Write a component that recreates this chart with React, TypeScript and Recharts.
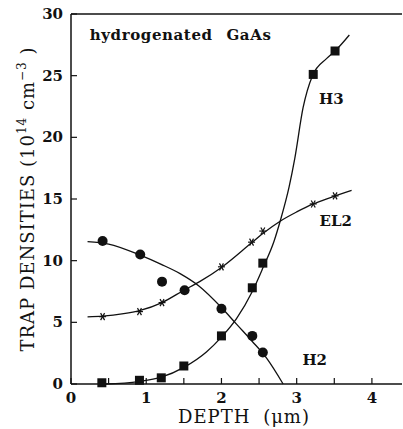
import {
  ComposedChart,
  Line,
  ReferenceDot,
  ReferenceLine,
  Scatter,
  XAxis,
  YAxis,
} from "recharts"

// measured trap densities (10^14 cm^-3) vs depth (µm)
const H2_POINTS = [
  { x: 0.42, y: 11.6 },
  { x: 0.92, y: 10.5 },
  { x: 1.21, y: 8.3 },
  { x: 1.51, y: 7.6 },
  { x: 2.0, y: 6.1 },
  { x: 2.41, y: 3.9 },
  { x: 2.55, y: 2.55 },
]

const H3_POINTS = [
  { x: 0.41, y: 0.1 },
  { x: 0.91, y: 0.3 },
  { x: 1.2, y: 0.5 },
  { x: 1.5, y: 1.46 },
  { x: 2.0, y: 3.9 },
  { x: 2.41, y: 7.8 },
  { x: 2.55, y: 9.8 },
  { x: 3.22, y: 25.1 },
  { x: 3.51, y: 27.0 },
]

const EL2_POINTS = [
  { x: 0.42, y: 5.46 },
  { x: 0.91, y: 5.87 },
  { x: 1.21, y: 6.6 },
  { x: 2.0, y: 9.5 },
  { x: 2.4, y: 11.5 },
  { x: 2.55, y: 12.4 },
  { x: 3.22, y: 14.6 },
  { x: 3.51, y: 15.25 },
]

// fitted curves
const H2_CURVE = [
  { x: 0.22, y: 11.55 },
  { x: 0.5, y: 11.35 },
  { x: 0.92, y: 10.45 },
  { x: 1.2, y: 9.7 },
  { x: 1.45, y: 8.95 },
  { x: 1.7, y: 7.95 },
  { x: 2.0, y: 6.2 },
  { x: 2.2, y: 4.85 },
  { x: 2.41, y: 3.45 },
  { x: 2.6, y: 2.1 },
  { x: 2.82, y: 0 },
]

const EL2_CURVE = [
  { x: 0.22, y: 5.45 },
  { x: 0.42, y: 5.5 },
  { x: 0.7, y: 5.7 },
  { x: 0.91, y: 5.95 },
  { x: 1.21, y: 6.6 },
  { x: 1.5, y: 7.6 },
  { x: 1.71, y: 8.3 },
  { x: 2.0, y: 9.45 },
  { x: 2.4, y: 11.45 },
  { x: 2.55, y: 12.2 },
  { x: 2.78, y: 13.2 },
  { x: 3.0, y: 13.95 },
  { x: 3.22, y: 14.6 },
  { x: 3.44, y: 15.1 },
  { x: 3.73, y: 15.7 },
]

const H3_CURVE = [
  { x: 0.45, y: 0 },
  { x: 0.9, y: 0.2 },
  { x: 1.2, y: 0.55 },
  { x: 1.5, y: 1.35 },
  { x: 1.8, y: 2.6 },
  { x: 2.0, y: 3.8 },
  { x: 2.2, y: 5.3 },
  { x: 2.41, y: 7.5 },
  { x: 2.55, y: 9.4 },
  { x: 2.7, y: 11.6 },
  { x: 2.785, y: 13.3 },
  { x: 2.9, y: 16.0 },
  { x: 2.975, y: 18.3 },
  { x: 3.085, y: 22.4 },
  { x: 3.21, y: 25.0 },
  { x: 3.4, y: 26.4 },
  { x: 3.51, y: 27.0 },
  { x: 3.7, y: 28.3 },
]

const X_TICKS = [0, 0.5, 1, 1.5, 2, 2.5, 3, 3.5, 4]
const Y_TICKS = [0, 5, 10, 15, 20, 25, 30]

const SERIF = "'DejaVu Serif', 'Liberation Serif', serif"
const INK = "#111"

function XTick({ x, y, payload }: any) {
  const major = Number.isInteger(payload.value)
  return (
    <g>
      <line x1={x} x2={x} y1={y} y2={y - 6} stroke={INK} strokeWidth={1.2} />
      {major && (
        <text
          x={x}
          y={y + 19}
          textAnchor="middle"
          fontFamily={SERIF}
          fontWeight="bold"
          fontSize={15}
          fill={INK}
        >
          {payload.value}
        </text>
      )}
    </g>
  )
}

function YTick({ x, y, payload }: any) {
  return (
    <g>
      <line x1={x} x2={x + 6} y1={y} y2={y} stroke={INK} strokeWidth={1.2} />
      <text
        x={x - 8}
        y={y + 5}
        textAnchor="end"
        fontFamily={SERIF}
        fontWeight="bold"
        fontSize={15}
        fill={INK}
      >
        {payload.value}
      </text>
    </g>
  )
}

const circle = ({ cx, cy }: any) => <circle cx={cx} cy={cy} r={5} fill={INK} />
const square = ({ cx, cy }: any) => (
  <rect x={cx - 4.5} y={cy - 4.5} width={9} height={9} fill={INK} />
)
const star = ({ cx, cy }: any) => (
  <g stroke={INK} strokeWidth={1.2}>
    <line x1={cx - 3.5} x2={cx + 3.5} y1={cy} y2={cy} />
    <line x1={cx - 2} x2={cx + 2} y1={cy - 3.5} y2={cy + 3.5} />
    <line x1={cx + 2} x2={cx - 2} y1={cy - 3.5} y2={cy + 3.5} />
  </g>
)

// text tag placed at a data position (through ReferenceDot)
const tag = (text: string, anchor: "start" | "middle", size = 14, spacing = 0) => ({
  content: ({ viewBox }: any) => (
    <text
      x={viewBox.x + viewBox.width / 2}
      y={viewBox.y + viewBox.height / 2}
      dy="0.35em"
      textAnchor={anchor}
      fontFamily={SERIF}
      fontWeight="bold"
      fontSize={size}
      letterSpacing={spacing}
      wordSpacing={8}
      fill={INK}
    >
      {text}
    </text>
  ),
})

export default function App() {
  return (
    <div
      style={{
        position: "absolute",
        left: 0,
        top: 0,
        width: 403,
        height: 429,
        overflow: "hidden",
        background: "#fff",
      }}
    >
      <ComposedChart
        width={403}
        height={429}
        margin={{ top: 14, right: 1, bottom: 0, left: 0 }}
      >
        <XAxis
          dataKey="x"
          type="number"
          domain={[0, 4.4]}
          ticks={X_TICKS}
          tickSize={0}
          tickMargin={0}
          tickLine={false}
          tick={<XTick />}
          height={45}
          axisLine={{ stroke: INK, strokeWidth: 1.5 }}
          interval={0}
          label={{
            content: () => (
              <text
                x={244}
                y={423}
                textAnchor="middle"
                fontFamily={SERIF}
                fontSize={18}
                letterSpacing={1}
                wordSpacing={6}
                fill={INK}
              >
                DEPTH (μm)
              </text>
            ),
          }}
        />
        <YAxis
          type="number"
          domain={[0, 30]}
          ticks={Y_TICKS}
          tickSize={0}
          tickMargin={0}
          tickLine={false}
          tick={<YTick />}
          width={71}
          axisLine={{ stroke: INK, strokeWidth: 1.5 }}
          interval={0}
          label={{
            content: () => (
              <text
                transform="translate(34,199) rotate(-90)"
                textAnchor="middle"
                fontFamily={SERIF}
                fontSize={18}
                letterSpacing={1}
                fill={INK}
              >
                TRAP DENSITIES (10
                <tspan fontSize={12} dy={-8}>
                  14
                </tspan>
                <tspan dy={8}> cm</tspan>
                <tspan fontSize={12} dy={-8}>
                  −3
                </tspan>
                <tspan dy={8}> )</tspan>
              </text>
            ),
          }}
        />
        <ReferenceLine y={30} stroke={INK} strokeWidth={1.5} />

        <Line
          data={H2_CURVE}
          dataKey="y"
          type="monotone"
          stroke={INK}
          strokeWidth={1.3}
          dot={false}
          activeDot={false}
          isAnimationActive={false}
        />
        <Line
          data={EL2_CURVE}
          dataKey="y"
          type="monotone"
          stroke={INK}
          strokeWidth={1.3}
          dot={false}
          activeDot={false}
          isAnimationActive={false}
        />
        <Line
          data={H3_CURVE}
          dataKey="y"
          type="monotone"
          stroke={INK}
          strokeWidth={1.3}
          dot={false}
          activeDot={false}
          isAnimationActive={false}
        />

        <Scatter data={H2_POINTS} dataKey="y" shape={circle} isAnimationActive={false} />
        <Scatter data={H3_POINTS} dataKey="y" shape={square} isAnimationActive={false} />
        <Scatter data={EL2_POINTS} dataKey="y" shape={star} isAnimationActive={false} />

        <ReferenceDot x={0.25} y={28.3} r={0} fill="none" stroke="none"
          label={tag("hydrogenated GaAs", "start", 15, 0.6)} />
        <ReferenceDot x={3.46} y={23.1} r={0} fill="none" stroke="none"
          label={tag("H3", "middle", 15)} />
        <ReferenceDot x={3.52} y={13.25} r={0} fill="none" stroke="none"
          label={tag("EL2", "middle", 15)} />
        <ReferenceDot x={3.24} y={2.0} r={0} fill="none" stroke="none"
          label={tag("H2", "middle", 15)} />
      </ComposedChart>
    </div>
  )
}
